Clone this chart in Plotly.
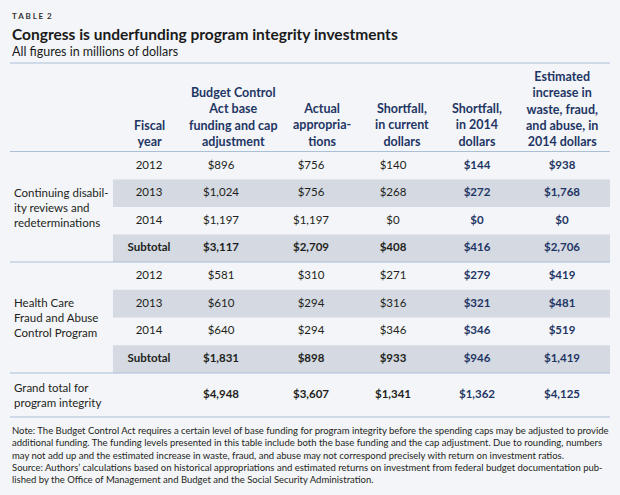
import plotly.graph_objects as go

# ---------------- data ----------------
row_labels = ["2012", "2013", "2014", "Subtotal"]
group_names = ["Continuing disabil-<br>ity reviews and<br>redeterminations",
               "Health Care<br>Fraud and Abuse<br>Control Program"]
grand_label = "Grand total for<br>program integrity"

col_headers = ["Fiscal<br>year",
               "Budget Control<br>Act base<br>funding and cap<br>adjustment",
               "Actual<br>appropria-<br>tions",
               "Shortfall,<br>in current<br>dollars",
               "Shortfall,<br>in 2014<br>dollars",
               "Estimated<br>increase in<br>waste, fraud,<br>and abuse, in<br>2014 dollars"]

cdr_bca = [896, 1024, 1197, 3117]
cdr_actual = [756, 756, 1197, 2709]
cdr_short_cur = [140, 268, 0, 408]
cdr_short_2014 = [144, 272, 0, 416]
cdr_waste = [938, 1768, 0, 2706]

hc_bca = [581, 610, 640, 1831]
hc_actual = [310, 294, 294, 898]
hc_short_cur = [271, 316, 346, 933]
hc_short_2014 = [279, 321, 346, 946]
hc_waste = [419, 481, 519, 1419]

grand_total = [4948, 3607, 1341, 1362, 4125]

title_tag = "T A B L E  2"
title = "Congress is underfunding program integrity investments"
subtitle = "All figures in millions of dollars"
note = ("Note: The Budget Control Act requires a certain level of base funding for program integrity before the spending caps may be adjusted to provide<br>"
        "additional funding. The funding levels presented in this table include both the base funding and the cap adjustment. Due to rounding, numbers<br>"
        "may not add up and the estimated increase in waste, fraud, and abuse may not correspond precisely with return on investment ratios.")
source = ("Source: Authors’ calculations based on historical appropriations and estimated returns on investment from federal budget documentation pub-<br>"
          "lished by the Office of Management and Budget and the Social Security Administration.")

# ---------------- style / layout ----------------
W, H = 620, 495
FONT = "Lato"
BG = "#f3f5f8"
BAND = "#d4d9e2"
RULE = "#a9c0d6"
NAVY = "#1f3564"
DARK = "#231f20"

header_x = [149, 233, 322, 402, 477, 562]
value_x = [149, 221, 311, 393, 477, 562]
group_tops = [152, 262]
group_h = [110, 111]
grand_y = 395

fig = go.Figure()
shapes = []
annotations = []

def money(v):
    return "$" + f"{v:,}"

groups = [
    [cdr_bca, cdr_actual, cdr_short_cur, cdr_short_2014, cdr_waste],
    [hc_bca, hc_actual, hc_short_cur, hc_short_2014, hc_waste],
]

# bands
for g, top in enumerate(group_tops):
    rh = group_h[g] / 4
    for i in (1, 3):
        shapes.append(dict(type="rect", xref="x", yref="y", x0=113, x1=610,
                           y0=top + i * rh, y1=top + (i + 1) * rh,
                           fillcolor=BAND, line_width=0, layer="below"))

# rules
for yy in [63, 151.5, 262, 373, 417]:
    shapes.append(dict(type="line", xref="x", yref="y", x0=10, x1=610, y0=yy, y1=yy,
                       line=dict(color=RULE, width=1.2)))

# cell values
for g, top in enumerate(group_tops):
    rh = group_h[g] / 4
    ys = [top + (i + 0.5) * rh for i in range(4)]
    fig.add_trace(go.Scatter(
        x=[value_x[0]] * 4, y=ys, mode="text",
        text=[r if r != "Subtotal" else "<b>Subtotal</b>" for r in row_labels],
        textfont=dict(family=FONT, size=11.5, color=DARK), hoverinfo="skip"))
    for c, series in enumerate(groups[g]):
        navy = c >= 3
        txt = []
        for i, v in enumerate(series):
            s = money(v)
            if navy or i == 3:
                s = "<b>" + s + "</b>"
            txt.append(s)
        fig.add_trace(go.Scatter(
            x=[value_x[c + 1]] * 4, y=ys, mode="text", text=txt,
            textfont=dict(family=FONT, size=11.5, color=NAVY if navy else DARK),
            hoverinfo="skip"))
    annotations.append(dict(x=12, y=top + group_h[g] / 2, xref="x", yref="y",
                            text=group_names[g], showarrow=False, xanchor="left",
                            yanchor="middle", align="left",
                            font=dict(family=FONT, size=11.5, color=DARK)))

# grand total
fig.add_trace(go.Scatter(
    x=value_x[1:4], y=[grand_y] * 3, mode="text",
    text=["<b>" + money(v) + "</b>" for v in grand_total[:3]],
    textfont=dict(family=FONT, size=11.5, color=DARK), hoverinfo="skip"))
fig.add_trace(go.Scatter(
    x=value_x[4:6], y=[grand_y] * 2, mode="text",
    text=["<b>" + money(v) + "</b>" for v in grand_total[3:]],
    textfont=dict(family=FONT, size=11.5, color=NAVY), hoverinfo="skip"))
annotations.append(dict(x=12, y=grand_y, xref="x", yref="y", text=grand_label,
                        showarrow=False, xanchor="left", yanchor="middle", align="left",
                        font=dict(family=FONT, size=11.5, color=DARK)))

# headers
for hx, ht in zip(header_x, col_headers):
    annotations.append(dict(x=hx, y=150.5, xref="x", yref="y", text="<b>" + ht + "</b>",
                            showarrow=False, xanchor="center", yanchor="bottom",
                            align="center",
                            font=dict(family=FONT, size=12.5, color=NAVY)))

# titles
annotations.append(dict(x=10, y=16, xref="x", yref="y", text="<b>" + title_tag + "</b>",
                        showarrow=False, xanchor="left", yanchor="middle",
                        font=dict(family=FONT, size=8, color="#333333")))
annotations.append(dict(x=10, y=34, xref="x", yref="y", text="<b>" + title + "</b>",
                        showarrow=False, xanchor="left", yanchor="middle",
                        font=dict(family=FONT, size=15.5, color="#1a1a1a")))
annotations.append(dict(x=10, y=51.5, xref="x", yref="y", text=subtitle,
                        showarrow=False, xanchor="left", yanchor="middle",
                        font=dict(family=FONT, size=12.5, color="#1a1a1a")))

# notes
annotations.append(dict(x=10, y=423, xref="x", yref="y", text=note,
                        showarrow=False, xanchor="left", yanchor="top", align="left",
                        font=dict(family=FONT, size=9.5, color=DARK)))
annotations.append(dict(x=10, y=459.5, xref="x", yref="y", text=source,
                        showarrow=False, xanchor="left", yanchor="top", align="left",
                        font=dict(family=FONT, size=9.5, color=DARK)))

fig.update_layout(
    width=W, height=H, margin=dict(l=0, r=0, t=0, b=0),
    paper_bgcolor=BG, plot_bgcolor=BG, showlegend=False,
    xaxis=dict(range=[0, W], visible=False, fixedrange=True),
    yaxis=dict(range=[H, 0], visible=False, fixedrange=True),
    shapes=shapes, annotations=annotations,
)
fig.write_html("out.html", config={"displayModeBar": False},
               post_script="document.body.style.margin='0';document.body.style.background='" + BG + "';")
